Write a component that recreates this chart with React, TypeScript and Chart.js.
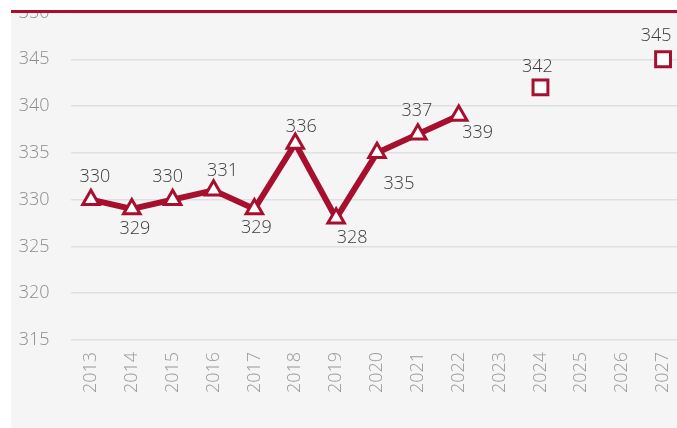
import React, { useEffect, useRef } from 'react';
import { Chart, registerables } from 'chart.js';

Chart.register(...registerables);

const years = ['2013', '2014', '2015', '2016', '2017', '2018', '2019', '2020', '2021', '2022', '2023', '2024', '2025', '2026', '2027'];
const actualValues = [330, 329, 330, 331, 329, 336, 328, 335, 337, 339, null, null, null, null, null];
const forecastValues = [null, null, null, null, null, null, null, null, null, null, null, 342, null, null, 345];
const yMin = 315;
const yMax = 350;
const yStep = 5;

const RED = '#a60f2d';

// label placement (offset of the value label from its point), styling only
const labelOffsets: Record<number, [number, number][]> = {
  0: [[4, -23], [3, 20], [-5, -23], [9, -19], [2, 19], [6, -17], [16, 20], [22, 31], [-1, -23], [19, 17]],
  1: [[0, 0], [0, 0], [0, 0], [0, 0], [0, 0], [0, 0], [0, 0], [0, 0], [0, 0], [0, 0], [0, 0], [-3, -20], [0, 0], [0, 0], [-7, -23]],
};

const valueLabels = {
  id: 'valueLabels',
  afterDatasetsDraw(chart: any) {
    const ctx = chart.ctx;
    ctx.save();
    ctx.font = '300 18px "Open Sans"';
    ctx.fillStyle = '#3a3a3a';
    ctx.textAlign = 'center';
    ctx.textBaseline = 'middle';
    chart.data.datasets.forEach((ds: any, di: number) => {
      const meta = chart.getDatasetMeta(di);
      meta.data.forEach((el: any, i: number) => {
        const v = ds.data[i];
        if (v === null || v === undefined) return;
        const off = (labelOffsets[di] && labelOffsets[di][i]) || [0, -22];
        ctx.fillText(String(v), el.x + off[0], el.y + off[1]);
      });
    });
    ctx.restore();
  },
};

export default function App() {
  const ref = useRef<HTMLCanvasElement | null>(null);
  useEffect(() => {
    if (!ref.current) return;
    const chart = new Chart(ref.current, {
      type: 'line',
      data: {
        labels: years,
        datasets: [
          {
            data: actualValues,
            borderColor: RED,
            borderWidth: 6,
            backgroundColor: '#ffffff',
            pointStyle: 'triangle',
            pointRadius: 9.5,
            pointBorderWidth: 3,
            pointBackgroundColor: '#ffffff',
            pointBorderColor: RED,
            tension: 0,
            spanGaps: false,
          },
          {
            data: forecastValues,
            showLine: false,
            borderColor: RED,
            backgroundColor: '#ffffff',
            pointStyle: 'rect',
            pointRadius: 10.5,
            pointBorderWidth: 3,
            pointBackgroundColor: '#ffffff',
            pointBorderColor: RED,
          },
        ],
      },
      options: {
        responsive: false,
        animation: false,
        layout: { padding: { top: 12, left: 0, right: 0, bottom: 0 } },
        plugins: {
          legend: { display: false },
          tooltip: { enabled: false },
        },
        scales: {
          x: {
            offset: true,
            grid: { display: false, drawTicks: false },
            border: { display: false },
            ticks: {
              autoSkip: false,
              minRotation: 90,
              maxRotation: 90,
              padding: 12,
              color: '#9a9a9a',
              font: { family: '"Open Sans"', size: 18, weight: '300' as any },
            },
            afterFit(scale: any) {
              scale.height = 88;
              scale.paddingLeft = 0;
              scale.paddingRight = 0;
            },
          },
          y: {
            min: yMin,
            max: yMax,
            grid: { color: '#e0e0e0', lineWidth: 1.5, drawTicks: false },
            border: { display: false },
            ticks: {
              stepSize: yStep,
              padding: 21,
              color: '#8c8c8c',
              font: { family: '"Open Sans"', size: 18, weight: '300' as any },
            },
            afterFit(scale: any) {
              scale.width = 59.5;
              scale.paddingTop = 0;
              scale.paddingBottom = 0;
            },
          },
        },
      },
      plugins: [valueLabels],
    });
    return () => chart.destroy();
  }, []);

  return (
    <div
      style={{
        position: 'absolute',
        left: 11,
        top: 10,
        width: 666,
        height: 418,
        boxSizing: 'border-box',
        borderTop: `3px solid ${RED}`,
        background: '#f5f5f5',
        overflow: 'hidden',
      }}
    >
      <canvas
        ref={ref}
        width={686}
        height={429}
        style={{ position: 'absolute', left: 0, top: -14, width: 686, height: 429 }}
      />
    </div>
  );
}
